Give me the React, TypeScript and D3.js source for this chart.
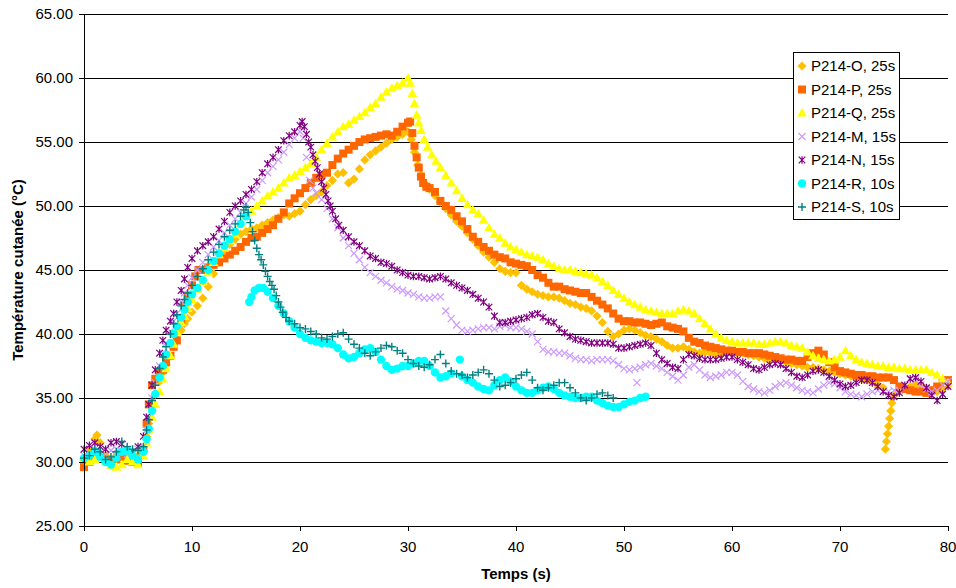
import React from "react";
import * as d3 from "d3";

type Pt = [number, number];

const xTicks = [0, 10, 20, 30, 40, 50, 60, 70, 80];
const yTicks = [25, 30, 35, 40, 45, 50, 55, 60, 65];
const xTitle = "Temps (s)";
const yTitle = "Température cutanée (°C)";

const seriesNames = ["P214-O, 25s", "P214-P, 25s", "P214-Q, 25s", "P214-M, 15s", "P214-N, 15s", "P214-R, 10s", "P214-S, 10s"];

const dataO: Pt[] = [[0,30.2],[0.5,31.0],[1,31.8],[1.2,32.1],[1.5,31.5],[2,30.5],[2.5,30.2],[3,30.5],[3.5,30.8],[4,30.5],[4.5,30.2],[5,30.5],[5.5,30.8],[5.8,32],[6,33],[6.3,34.3],[6.6,35.3],[7,36.3],[7.3,37],[7.6,37.6],[8,38.3],[8.3,39],[8.6,39.6],[9,40.3],[9.3,40.8],[9.6,41.2],[10,41.7],[10.5,42.2],[11,42.8],[11.5,43.7],[12,44.7],[12.5,45.6],[13,46.4],[13.5,47.0],[14,47.4],[14.5,47.8],[15,48.0],[15.5,48.2],[16,48.3],[16.5,48.5],[17,48.7],[17.5,48.9],[18,49.1],[18.5,49.3],[19,49.2],[19.5,49.4],[20,49.6],[20.5,50.1],[21,50.5],[21.5,50.8],[22,51.1],[22.5,51.6],[23,52.0],[23.5,52.5],[24,52.6],[24.5,51.8],[25,52.1],[25.5,52.9],[26,53.6],[26.5,54.0],[27,54.3],[27.5,54.6],[28,54.9],[28.5,55.2],[29,55.4],[29.5,55.6],[30,55.8],[30.3,55.2],[30.6,54.2],[30.9,53.2],[31.2,52.4],[31.5,51.8],[32,51.3],[32.5,50.8],[33,50.3],[33.5,49.8],[34,49.3],[34.5,48.8],[35,48.4],[35.5,47.9],[36,47.4],[36.5,46.9],[37,46.4],[37.5,46.0],[38,45.6],[38.5,45.1],[39,44.9],[39.5,44.8],[40,44.8],[40.5,43.8],[41,43.5],[41.5,43.3],[42,43.1],[42.5,43.0],[43,42.9],[43.5,42.9],[44,42.8],[44.5,42.6],[45,42.4],[45.5,42.3],[46,42.1],[46.5,42.0],[47,41.8],[47.5,41.4],[48,40.9],[48.5,40.2],[49,39.8],[49.5,40.0],[50,40.3],[50.5,40.4],[51,40.3],[51.5,40.1],[52,39.9],[52.5,39.8],[53,39.6],[53.5,39.4],[54,39.1],[54.5,38.9],[55,38.9],[55.5,39.0],[56,38.8],[56.5,38.6],[57,38.5],[57.5,38.6],[58,38.5],[58.5,38.4],[59,38.4],[59.5,38.5],[60,38.6],[60.5,38.5],[61,38.5],[61.5,38.4],[62,38.3],[62.5,38.2],[63,38.1],[63.5,38.0],[64,38.0],[64.5,37.9],[65,37.8],[65.5,37.7],[66,37.6],[66.5,37.5],[67,37.4],[67.5,37.4],[68,37.3],[68.5,37.2],[69,37.1],[69.5,37.0],[70,36.9],[70.5,36.8],[71,36.7],[71.5,36.6],[72,36.5],[72.5,36.4],[73,36.2],[73.5,36.0],[74,35.8],[74.2,31.0],[74.3,31.6],[74.4,32.2],[74.5,32.8],[74.6,33.4],[74.7,34.0],[74.8,34.6],[75,35.2],[75.5,35.6],[76,35.8],[76.5,35.9],[77,36.0],[77.5,36.0],[78,35.8],[78.5,35.6],[79,35.5],[79.5,35.7],[80,36.0]];

const dataP: Pt[] = [[0,29.6],[0.5,30.0],[1,30.3],[1.5,30.5],[2,30.2],[2.5,30.0],[3,30.2],[3.5,30.4],[4,30.1],[4.5,30.0],[5,29.9],[5.5,31.0],[5.8,33.0],[6,34.5],[6.3,36.0],[6.6,36.5],[7,37.0],[7.3,37.2],[7.6,37.8],[8,38.3],[8.3,39.0],[8.6,39.5],[9,41.0],[9.3,42.2],[9.6,43.0],[10,43.8],[10.3,44.5],[10.6,45.0],[11,45.0],[11.5,45.2],[12,45.4],[12.5,45.6],[13,45.9],[13.5,46.2],[14,46.5],[14.5,46.8],[15,47.2],[15.5,47.5],[16,47.6],[16.5,47.9],[17,48.2],[17.5,48.5],[18,49.0],[18.5,49.5],[19,50.2],[19.5,50.6],[20,51.0],[20.5,51.4],[21,51.8],[21.5,52.2],[22,52.4],[22.5,52.6],[23,53.2],[23.5,53.7],[24,54.1],[24.5,54.4],[25,54.7],[25.5,55.0],[26,55.2],[26.5,55.3],[27,55.4],[27.5,55.5],[28,55.6],[28.5,55.5],[29,55.8],[29.5,56.2],[30,56.5],[30.2,56.6],[30.4,55.7],[30.6,54.7],[30.8,53.8],[31,53.0],[31.2,52.3],[31.4,51.8],[31.7,51.5],[32,51.4],[32.5,51.1],[33,50.4],[33.5,50.0],[34,49.7],[34.5,49.2],[35,48.8],[35.5,48.2],[36,47.6],[36.5,47.2],[37,46.8],[37.5,46.5],[38,46.2],[38.5,46.0],[39,45.9],[39.5,45.6],[40,45.5],[40.5,45.4],[41,45.3],[41.5,45.0],[42,44.6],[42.5,44.4],[43,44.0],[43.5,43.7],[44,43.7],[44.5,43.5],[45,43.4],[45.5,43.3],[46,43.2],[46.5,43.2],[47,42.9],[47.5,42.6],[48,42.3],[48.5,42.0],[49,41.6],[49.5,41.2],[50,41.0],[50.5,41.0],[51,40.9],[51.5,40.9],[52,40.8],[52.5,40.7],[53,40.8],[53.5,40.9],[54,40.6],[54.5,40.5],[55,40.4],[55.5,40.2],[56,39.7],[56.5,39.4],[57,39.3],[57.5,39.1],[58,39.0],[58.5,38.9],[59,38.8],[59.5,38.7],[60,38.7],[60.5,38.6],[61,38.6],[61.5,38.5],[62,38.5],[62.5,38.5],[63,38.4],[63.5,38.3],[64,38.2],[64.5,38.1],[65,38.0],[65.5,38.0],[66,37.9],[66.5,37.9],[67,38.2],[67.5,38.5],[68,38.7],[68.5,38.4],[69,37.8],[69.5,37.4],[70,37.1],[70.5,37.0],[71,36.9],[71.5,36.8],[72,36.8],[72.5,36.7],[73,36.7],[73.5,36.6],[74,36.6],[74.5,36.6],[75,36.4],[75.5,35.9],[76,35.7],[76.5,35.6],[77,35.5],[77.5,35.5],[78,35.4],[78.5,35.6],[79,35.9],[79.5,36.2],[80,36.4]];

const dataQ: Pt[] = [[0,30.3],[0.5,30.0],[1,30.2],[1.5,30.5],[2,30.0],[2.5,29.7],[3,29.6],[3.5,29.8],[4,30.2],[4.5,30.0],[5,29.8],[5.5,30.5],[5.8,31.5],[6,32.5],[6.3,33.5],[6.6,34.5],[7,35.5],[7.3,36.5],[7.6,37.3],[8,38.3],[8.3,39.2],[8.6,40.2],[9,40.9],[9.3,41.4],[9.6,42.0],[10,42.7],[10.5,43.5],[11,44.1],[11.5,44.8],[12,45.6],[12.5,46.2],[13,46.7],[13.5,47.3],[14,47.8],[14.5,48.6],[15,49.2],[15.5,49.6],[16,50.0],[16.5,50.4],[17,50.8],[17.5,51.1],[18,51.4],[18.5,51.8],[19,52.2],[19.5,52.4],[20,52.7],[20.5,53.0],[21,53.3],[21.5,53.8],[22,54.4],[22.5,54.9],[23,55.4],[23.5,55.8],[24,56.2],[24.5,56.4],[25,56.7],[25.5,57.0],[26,57.3],[26.5,57.7],[27,58.0],[27.5,58.5],[28,58.9],[28.5,59.2],[29,59.4],[29.5,59.6],[30,60.0],[30.2,59.6],[30.4,58.8],[30.6,58.0],[30.8,57.1],[31,56.5],[31.2,55.9],[31.5,55.2],[31.8,54.6],[32.2,54.0],[32.6,53.5],[33,53.0],[33.5,52.4],[34,51.8],[34.5,51.2],[35,50.6],[35.5,50.1],[36,49.7],[36.5,49.4],[37,48.9],[37.5,48.3],[38,47.8],[38.5,47.5],[39,47.1],[39.5,46.8],[40,46.6],[40.5,46.4],[41,46.2],[41.5,46.1],[42,46.0],[42.5,45.8],[43,45.5],[43.5,45.3],[44,45.1],[44.5,45.0],[45,45.0],[45.5,44.9],[46,44.8],[46.5,44.7],[47,44.6],[47.5,44.4],[48,44.1],[48.5,43.8],[49,43.4],[49.5,43.1],[50,42.8],[50.5,42.5],[51,42.3],[51.5,42.1],[52,41.9],[52.5,41.8],[53,41.7],[53.5,41.6],[54,41.6],[54.5,41.6],[55,41.8],[55.5,41.9],[56,41.8],[56.5,41.6],[57,41.2],[57.5,40.8],[58,40.4],[58.5,40.0],[59,39.7],[59.5,39.5],[60,39.4],[60.5,39.3],[61,39.3],[61.5,39.3],[62,39.3],[62.5,39.2],[63,39.2],[63.5,39.3],[64,39.4],[64.5,39.4],[65,39.3],[65.5,39.1],[66,39.0],[66.5,38.9],[67,38.6],[67.5,38.3],[68,38.1],[68.5,38.0],[69,37.9],[69.5,38.0],[70,38.2],[70.5,38.7],[71,38.3],[71.5,38.0],[72,37.8],[72.5,37.7],[73,37.6],[73.5,37.5],[74,37.5],[74.5,37.4],[75,37.4],[75.5,37.3],[76,37.3],[76.5,37.2],[77,37.2],[77.5,37.2],[78,37.2],[78.5,37.0],[79,36.8],[79.5,36.5],[80,36.2]];

const dataM: Pt[] = [[0,30.5],[0.5,30.7],[1,31.0],[1.5,30.8],[2,30.6],[2.5,30.9],[3,31.0],[3.5,30.8],[4,30.6],[4.5,30.7],[5,31.0],[5.5,31.2],[5.8,32.5],[6,33.5],[6.3,35.0],[6.6,36.2],[7,37.5],[7.3,38.5],[7.6,39.3],[8,40.2],[8.3,41.0],[8.6,41.6],[9,42.5],[9.3,43.2],[9.6,43.8],[10,44.4],[10.5,45.0],[11,45.6],[11.5,46.2],[12,46.8],[12.5,47.3],[13,47.9],[13.5,48.5],[14,49.0],[14.5,49.5],[15,50.2],[15.5,50.7],[16,51.3],[16.5,52.0],[17,52.6],[17.5,53.1],[18,53.6],[18.5,54.2],[19,54.8],[19.5,55.3],[20,55.8],[20.3,55.3],[20.6,53.8],[20.9,52.0],[21.2,51.4],[21.5,51.0],[22,50.5],[22.5,49.8],[23,49.0],[23.5,48.3],[24,47.5],[24.5,46.9],[25,46.3],[25.5,45.8],[26,45.2],[26.5,44.8],[27,44.5],[27.5,44.2],[28,44.0],[28.5,43.7],[29,43.5],[29.5,43.4],[30,43.2],[30.5,43.1],[31,42.9],[31.5,42.8],[32,42.8],[32.5,42.9],[33,42.9],[33.5,41.8],[34,41.2],[34.5,40.7],[35,40.3],[35.5,40.2],[36,40.3],[36.5,40.4],[37,40.5],[37.5,40.5],[38,40.4],[38.5,40.6],[39,40.7],[39.5,40.5],[40,40.5],[40.5,40.4],[41,40.2],[41.5,40.0],[42,39.4],[42.5,38.8],[43,38.6],[43.5,38.6],[44,38.5],[44.5,38.5],[45,38.3],[45.5,38.1],[46,38.0],[46.5,38.0],[47,37.9],[47.5,38.0],[48,38.0],[48.5,38.0],[49,37.9],[49.5,37.6],[50,37.3],[50.5,37.2],[51,37.3],[51.2,36.2],[51.5,37.4],[52,37.6],[52.5,37.7],[53,37.5],[53.5,37.3],[54,37.0],[54.5,36.7],[55,36.4],[55.5,36.8],[56,37.4],[56.5,37.6],[57,37.2],[57.5,36.8],[58,36.6],[58.5,36.7],[59,36.8],[59.5,37.0],[60,37.0],[60.5,36.8],[61,36.3],[61.5,35.9],[62,35.7],[62.5,35.5],[63,35.4],[63.5,35.6],[64,35.9],[64.5,36.1],[65,36.2],[65.5,36.0],[66,35.8],[66.5,35.6],[67,35.5],[67.5,35.4],[68,35.7],[68.5,36.0],[69,36.2],[69.5,36.1],[70,35.8],[70.5,35.5],[71,35.3],[71.5,35.2],[72,35.1],[72.5,35.3],[73,35.5],[73.5,35.6],[74,35.5],[74.5,35.5],[75,35.6],[75.5,35.6],[76,36.0],[76.5,36.5],[77,36.4],[77.5,36.0],[78,35.7],[78.5,35.5],[79,35.6],[79.5,36.0],[80,36.3]];

const dataN: Pt[] = [[0,31.0],[0.5,31.3],[1,31.5],[1.5,31.2],[2,31.0],[2.5,31.5],[3,31.6],[3.5,31.4],[4,31.0],[4.5,30.8],[5,31.2],[5.5,32.0],[5.8,33.5],[6,34.5],[6.3,36.0],[6.6,37.2],[7,38.5],[7.3,39.5],[7.6,40.3],[8,41.0],[8.3,41.6],[8.6,42.5],[9,43.4],[9.3,44.3],[9.6,45.2],[10,45.9],[10.5,46.5],[11,46.9],[11.5,47.2],[12,47.6],[12.5,48.2],[13,48.8],[13.5,49.5],[14,50.0],[14.5,50.4],[15,50.9],[15.5,51.3],[16,51.9],[16.5,52.6],[17,53.3],[17.5,53.8],[18,54.4],[18.5,55.1],[19,55.5],[19.5,55.8],[20,56.3],[20.2,56.6],[20.4,56.2],[20.6,55.6],[20.8,55.0],[21,54.6],[21.2,54.0],[21.4,53.5],[21.6,53.0],[21.8,52.5],[22,51.9],[22.2,51.4],[22.4,50.9],[22.6,50.4],[22.8,50.0],[23,49.6],[23.3,49.0],[23.6,48.5],[24,48.1],[24.5,47.6],[25,47.2],[25.5,46.9],[26,46.5],[26.5,46.1],[27,45.9],[27.5,45.6],[28,45.5],[28.5,45.3],[29,45.0],[29.5,44.8],[30,44.6],[30.5,44.5],[31,44.5],[31.5,44.4],[32,44.3],[32.5,44.4],[33,44.5],[33.5,44.3],[34,44.0],[34.5,43.8],[35,43.6],[35.5,43.4],[36,43.1],[36.5,42.8],[37,42.5],[37.5,42.1],[38,41.4],[38.5,40.9],[39,40.9],[39.5,41.0],[40,41.1],[40.5,41.2],[41,41.3],[41.5,41.5],[42,41.6],[42.5,41.3],[43,41.0],[43.5,40.9],[44,40.4],[44.5,40.1],[45,39.8],[45.5,39.6],[46,39.5],[46.5,39.4],[47,39.3],[47.5,39.3],[48,39.3],[48.5,39.3],[49,39.2],[49.5,38.9],[50,38.9],[50.5,39.0],[51,39.1],[51.5,39.2],[52,39.3],[52.5,39.1],[53,38.5],[53.5,38.0],[54,37.7],[54.5,37.4],[55,37.3],[55.5,38.0],[56,38.4],[56.5,38.3],[57,38.1],[57.5,38.0],[58,38.0],[58.5,38.0],[59,38.1],[59.5,38.2],[60,38.2],[60.5,38.0],[61,37.8],[61.5,37.6],[62,37.3],[62.5,37.2],[63,37.4],[63.5,37.6],[64,37.7],[64.5,37.6],[65,37.3],[65.5,37.0],[66,36.7],[66.5,36.6],[67,36.8],[67.5,37.1],[68,37.2],[68.5,37.0],[69,36.7],[69.5,36.4],[70,36.1],[70.5,35.9],[71,36.0],[71.5,36.2],[72,36.4],[72.5,36.4],[73,36.2],[73.5,35.9],[74,35.5],[74.5,35.2],[75,35.1],[75.5,35.4],[76,36.0],[76.5,36.5],[77,36.6],[77.5,36.3],[78,35.8],[78.5,35.2],[79,34.8],[79.5,35.3],[80,35.9]];

const dataR: Pt[] = [[0,30.3],[0.5,30.5],[1,30.8],[1.5,30.4],[2,30.0],[2.5,29.8],[3,30.3],[3.5,30.8],[4,30.9],[4.5,30.5],[5,30.2],[5.5,30.8],[5.8,31.8],[6,32.6],[6.3,34.0],[6.6,35.3],[7,36.6],[7.3,37.5],[7.6,38.4],[8,39.3],[8.3,40.0],[8.6,40.6],[9,41.3],[9.3,41.9],[9.6,42.5],[10,43.1],[10.5,43.6],[11,44.2],[11.5,45.0],[12,45.7],[12.5,46.3],[13,46.9],[13.5,47.4],[14,48.0],[14.5,48.6],[15,49.2],[15.3,42.5],[15.5,42.9],[15.8,43.4],[16.2,43.6],[16.6,43.6],[17,43.3],[17.5,42.8],[18,42.2],[18.5,41.6],[19,41.0],[19.5,40.5],[20,40.0],[20.5,39.7],[21,39.5],[21.5,39.4],[22,39.3],[22.5,39.3],[23,39.2],[23.5,38.9],[24,38.4],[24.5,38.1],[25,38.2],[25.5,38.5],[26,38.8],[26.5,38.9],[27,38.6],[27.5,38.0],[28,37.5],[28.5,37.2],[29,37.3],[29.5,37.5],[30,37.5],[30.5,37.7],[31,37.9],[31.5,37.9],[32,37.5],[32.5,37.0],[33,36.6],[33.5,36.7],[34,36.9],[34.8,38.0],[35,36.7],[35.5,36.4],[36,36.2],[36.5,35.9],[37,35.7],[37.5,35.6],[38,36.0],[38.5,36.4],[39,36.6],[39.5,36.3],[40,35.9],[40.5,35.6],[41,35.4],[41.5,35.4],[42,35.6],[42.5,35.8],[43,35.9],[43.5,35.7],[44,35.4],[44.5,35.2],[45,35.1],[45.5,35.0],[46,35.0],[46.5,35.1],[47,35.1],[47.5,34.8],[48,34.6],[48.5,34.4],[49,34.3],[49.5,34.3],[50,34.5],[50.5,34.7],[51,34.8],[51.5,35.0],[52,35.1]];

const dataS: Pt[] = [[0,30.3],[0.5,30.5],[1,31.0],[1.5,30.8],[2,30.2],[2.5,30.4],[3,30.8],[3.5,31.6],[4,31.2],[4.5,31.0],[5,30.9],[5.5,31.2],[5.8,32.5],[6,33.3],[6.3,34.8],[6.6,36.0],[7,37.3],[7.3,38.2],[7.6,39.0],[8,40.0],[8.3,40.8],[8.6,41.5],[9,42.2],[9.3,42.7],[9.6,43.2],[10,43.8],[10.5,44.5],[11,45.1],[11.5,45.8],[12,46.4],[12.5,47.0],[13,47.6],[13.5,48.1],[14,48.6],[14.5,49.2],[14.8,49.7],[15,49.9],[15.2,49.5],[15.4,48.7],[15.6,48.0],[15.8,47.3],[16,46.7],[16.2,46.2],[16.4,45.8],[16.6,45.4],[16.8,44.9],[17,44.5],[17.2,44.1],[17.4,43.8],[17.6,43.5],[17.8,43.0],[18,42.5],[18.2,42.1],[18.4,41.7],[18.7,41.3],[19,41.0],[19.5,40.8],[20,40.5],[20.5,40.4],[21,40.2],[21.5,40.0],[22,39.7],[22.5,39.6],[23,39.8],[23.5,40.0],[24,40.1],[24.5,39.6],[25,39.2],[25.5,38.9],[26,38.5],[26.5,38.3],[27,38.6],[27.5,38.9],[28,39.1],[28.5,39.0],[29,38.7],[29.5,38.5],[30,38.0],[30.5,37.7],[31,37.5],[31.5,37.4],[32,37.6],[32.5,38.0],[33,38.4],[33.5,37.7],[34,37.1],[34.5,36.9],[35,36.8],[35.5,36.6],[36,36.8],[36.5,37.0],[37,37.2],[37.5,36.9],[38,36.4],[38.5,35.9],[39,36.0],[39.5,36.2],[40,36.5],[40.5,36.8],[41,37.0],[41.5,36.4],[42,35.8],[42.5,35.6],[43,35.8],[43.5,36.0],[44,36.2],[44.5,36.2],[45,35.8],[45.5,35.4],[46,35.0],[46.5,34.8],[47,35.0],[47.5,35.3],[48,35.4],[48.5,35.2],[49,35.0]];

const allData: Pt[][] = [dataO, dataP, dataQ, dataM, dataN, dataR, dataS];
const colors = ["#FFC000", "#FF6600", "#FFFF00", "#CC99FF", "#800080", "#00FFFF", "#008080"];
const shapes = ["diamond", "square", "triangle", "x", "star", "circle", "plus"];

const FONT = "'Liberation Sans', Arial, sans-serif";

function markerPath(shape: string): string {
  switch (shape) {
    case "diamond": return "M0,-4.6L4.6,0L0,4.6L-4.6,0Z";
    case "square": return d3.symbol().type(d3.symbolSquare).size(64)() || "";
    case "triangle": return "M0,-5L4.8,3.6L-4.8,3.6Z";
    case "circle": return d3.symbol().type(d3.symbolCircle).size(55)() || "";
    case "x": return "M-3.5,-3.5L3.5,3.5M-3.5,3.5L3.5,-3.5";
    case "star": return "M-3.3,-3.3L3.3,3.3M-3.3,3.3L3.3,-3.3M0,-3.8L0,3.8";
    case "plus": return "M-4,0L4,0M0,-4L0,4";
  }
  return "";
}
const filled = (s: string) => s === "diamond" || s === "square" || s === "triangle" || s === "circle";

function Marker({ shape, color, x, y }: { shape: string; color: string; x: number; y: number }) {
  const d = markerPath(shape);
  return filled(shape)
    ? <path d={d} transform={`translate(${x},${y})`} fill={color} stroke="none" />
    : <path d={d} transform={`translate(${x},${y})`} fill="none" stroke={color} strokeWidth={shape === "plus" ? 1.4 : 1.2} />;
}

export default function App() {
  const W = 956, H = 588;
  const x = d3.scaleLinear().domain([0, 80]).range([84, 948]);
  const y = d3.scaleLinear().domain([25, 65]).range([526, 14]);
  const x0 = x(0), x1 = x(80), yb = y(25);

  const legendX = 793, legendY = 52, legendW = 106, legendH = 167;
  const rowH = 23.5;

  return (
    <svg width={W} height={H} style={{ position: "fixed", left: 0, top: 0, background: "#fff" }} fontFamily={FONT}>
      <rect x={0} y={0} width={W} height={H} fill="#fff" />
      {yTicks.filter(t => t > 25).map(t => (
        <line key={"g" + t} x1={x0} x2={x1} y1={Math.round(y(t)) + 0.5} y2={Math.round(y(t)) + 0.5} stroke="#000" strokeWidth={1} />
      ))}
      {allData.map((ser, si) => (
        <g key={"s" + si}>
          {ser.map((p, i) => (
            <Marker key={i} shape={shapes[si]} color={colors[si]} x={x(p[0])} y={y(p[1])} />
          ))}
        </g>
      ))}
      <line x1={x0 + 0.5} x2={x0 + 0.5} y1={y(65)} y2={yb} stroke="#000" />
      <line x1={x0} x2={x1} y1={yb + 0.5} y2={yb + 0.5} stroke="#000" />
      {yTicks.map(t => (
        <g key={"yt" + t}>
          <line x1={x0 - 5} x2={x0} y1={Math.round(y(t)) + 0.5} y2={Math.round(y(t)) + 0.5} stroke="#000" />
          <text x={x0 - 11} y={y(t)} dy="0.35em" textAnchor="end" fontSize={15} fill="#000">{t.toFixed(2)}</text>
        </g>
      ))}
      {xTicks.map(t => (
        <g key={"xt" + t}>
          <line x1={Math.round(x(t)) + 0.5} x2={Math.round(x(t)) + 0.5} y1={yb} y2={yb + 5} stroke="#000" />
          <text x={x(t)} y={yb + 26} textAnchor="middle" fontSize={15} fill="#000">{t}</text>
        </g>
      ))}
      <text x={(x0 + x1) / 2} y={579} textAnchor="middle" fontSize={15} fontWeight="bold" fill="#000">{xTitle}</text>
      <text transform={`translate(23,${(y(65) + yb) / 2}) rotate(-90)`} textAnchor="middle" fontSize={15} fontWeight="bold" fill="#000">{yTitle}</text>
      <g>
        <rect x={legendX + 0.5} y={legendY + 0.5} width={legendW} height={legendH} fill="#fff" stroke="#000" />
        {seriesNames.map((name, i) => {
          const cy = legendY + 14 + i * rowH;
          return (
            <g key={"l" + i}>
              <Marker shape={shapes[i]} color={colors[i]} x={legendX + 9} y={cy} />
              <text x={legendX + 18} y={cy} dy="0.36em" fontSize={15} fill="#000">{name}</text>
            </g>
          );
        })}
      </g>
    </svg>
  );
}
